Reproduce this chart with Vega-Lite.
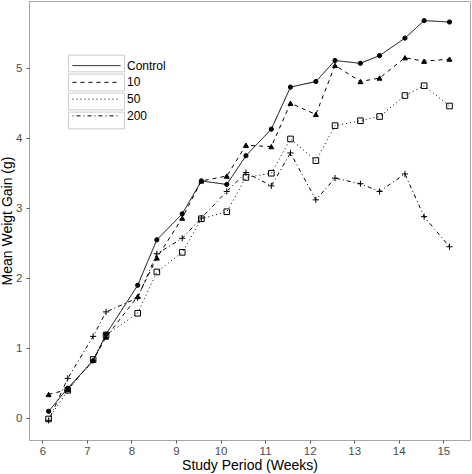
{
  "$schema": "https://vega.github.io/schema/vega-lite/v6.json",
  "width": 441,
  "height": 439,
  "autosize": {"type": "none"},
  "padding": {"left": 29, "top": 1, "right": 2, "bottom": 34},
  "background": "white",
  "config": {
    "view": {"stroke": "#a6a6a6", "strokeWidth": 1},
    "font": "Liberation Sans",
    "axis": {"domain": false, "grid": false, "tickColor": "#555", "tickSize": 3, "labelColor": "#4d4d4d", "labelFontSize": 11.5, "labelFont": "Liberation Sans", "titleFont": "Liberation Sans", "titleFontSize": 14, "titleFontWeight": "normal", "titleColor": "#000"}
  },
  "data": {
    "values": [
      {"week": 6.14, "group": "Control", "gain": 0.10},
      {"week": 6.57, "group": "Control", "gain": 0.43},
      {"week": 7.14, "group": "Control", "gain": 0.82},
      {"week": 7.43, "group": "Control", "gain": 1.20},
      {"week": 8.14, "group": "Control", "gain": 1.90},
      {"week": 8.57, "group": "Control", "gain": 2.55},
      {"week": 9.14, "group": "Control", "gain": 2.92},
      {"week": 9.57, "group": "Control", "gain": 3.39},
      {"week": 10.14, "group": "Control", "gain": 3.34},
      {"week": 10.57, "group": "Control", "gain": 3.75},
      {"week": 11.14, "group": "Control", "gain": 4.13},
      {"week": 11.57, "group": "Control", "gain": 4.73},
      {"week": 12.14, "group": "Control", "gain": 4.81},
      {"week": 12.57, "group": "Control", "gain": 5.11},
      {"week": 13.14, "group": "Control", "gain": 5.07},
      {"week": 13.57, "group": "Control", "gain": 5.18},
      {"week": 14.14, "group": "Control", "gain": 5.43},
      {"week": 14.57, "group": "Control", "gain": 5.68},
      {"week": 15.14, "group": "Control", "gain": 5.66},
      {"week": 6.14, "group": "10", "gain": 0.34},
      {"week": 6.57, "group": "10", "gain": 0.41},
      {"week": 7.14, "group": "10", "gain": 0.83},
      {"week": 7.43, "group": "10", "gain": 1.16},
      {"week": 8.14, "group": "10", "gain": 1.74},
      {"week": 8.57, "group": "10", "gain": 2.29},
      {"week": 9.14, "group": "10", "gain": 2.86},
      {"week": 9.57, "group": "10", "gain": 3.39},
      {"week": 10.14, "group": "10", "gain": 3.46},
      {"week": 10.57, "group": "10", "gain": 3.90},
      {"week": 11.14, "group": "10", "gain": 3.88},
      {"week": 11.57, "group": "10", "gain": 4.50},
      {"week": 12.14, "group": "10", "gain": 4.34},
      {"week": 12.57, "group": "10", "gain": 5.04},
      {"week": 13.14, "group": "10", "gain": 4.81},
      {"week": 13.57, "group": "10", "gain": 4.86},
      {"week": 14.14, "group": "10", "gain": 5.15},
      {"week": 14.57, "group": "10", "gain": 5.10},
      {"week": 15.14, "group": "10", "gain": 5.13},
      {"week": 6.14, "group": "50", "gain": -0.01},
      {"week": 6.57, "group": "50", "gain": 0.40},
      {"week": 7.14, "group": "50", "gain": 0.84},
      {"week": 7.43, "group": "50", "gain": 1.19},
      {"week": 8.14, "group": "50", "gain": 1.50},
      {"week": 8.57, "group": "50", "gain": 2.09},
      {"week": 9.14, "group": "50", "gain": 2.37},
      {"week": 9.57, "group": "50", "gain": 2.85},
      {"week": 10.14, "group": "50", "gain": 2.95},
      {"week": 10.57, "group": "50", "gain": 3.44},
      {"week": 11.14, "group": "50", "gain": 3.50},
      {"week": 11.57, "group": "50", "gain": 3.99},
      {"week": 12.14, "group": "50", "gain": 3.68},
      {"week": 12.57, "group": "50", "gain": 4.18},
      {"week": 13.14, "group": "50", "gain": 4.25},
      {"week": 13.57, "group": "50", "gain": 4.31},
      {"week": 14.14, "group": "50", "gain": 4.61},
      {"week": 14.57, "group": "50", "gain": 4.75},
      {"week": 15.14, "group": "50", "gain": 4.46},
      {"week": 6.14, "group": "200", "gain": -0.03},
      {"week": 6.57, "group": "200", "gain": 0.57},
      {"week": 7.14, "group": "200", "gain": 1.17},
      {"week": 7.43, "group": "200", "gain": 1.52},
      {"week": 8.14, "group": "200", "gain": 1.72},
      {"week": 8.57, "group": "200", "gain": 2.35},
      {"week": 9.14, "group": "200", "gain": 2.57},
      {"week": 9.57, "group": "200", "gain": 2.86},
      {"week": 10.14, "group": "200", "gain": 3.24},
      {"week": 10.57, "group": "200", "gain": 3.51},
      {"week": 11.14, "group": "200", "gain": 3.32},
      {"week": 11.57, "group": "200", "gain": 3.79},
      {"week": 12.14, "group": "200", "gain": 3.12},
      {"week": 12.57, "group": "200", "gain": 3.43},
      {"week": 13.14, "group": "200", "gain": 3.35},
      {"week": 13.57, "group": "200", "gain": 3.24},
      {"week": 14.14, "group": "200", "gain": 3.49},
      {"week": 14.57, "group": "200", "gain": 2.88},
      {"week": 15.14, "group": "200", "gain": 2.45}
    ]
  },
  "encoding": {
    "x": {"field": "week", "type": "quantitative", "scale": {"domain": [5.7, 15.6], "nice": false, "zero": false},
      "axis": {"values": [6, 7, 8, 9, 10, 11, 12, 13, 14, 15], "title": "Study Period (Weeks)", "labelPadding": 2, "titlePadding": 2}},
    "y": {"field": "gain", "type": "quantitative", "scale": {"domain": [-0.31, 5.96], "nice": false, "zero": false},
      "axis": {"values": [0, 1, 2, 3, 4, 5], "title": "Mean Weigt Gain (g)", "labelPadding": 4, "titlePadding": 1}}
  },
  "layer": [
    {
      "mark": {"type": "line", "color": "black", "strokeWidth": 1},
      "encoding": {
        "strokeDash": {"field": "group", "type": "nominal",
          "scale": {"domain": ["Control", "10", "50", "200"], "range": [[1, 0], [4, 4], [1, 3], [1, 3, 4, 3]]},
          "legend": {
            "title": null,
            "orient": "none",
            "legendX": 39.5,
            "legendY": 58.6,
            "symbolType": "M-6,0L6,0",
            "symbolSize": 64,
            "symbolStrokeWidth": 1,
            "symbolStrokeColor": "black",
            "symbolOffset": 22,
            "labelOffset": 24.5,
            "labelFontSize": 12,
            "labelColor": "#000",
            "labelFont": "Liberation Sans",
            "rowPadding": 4.75
          }
        },
        "strokeWidth": {"field": "group", "type": "nominal",
          "scale": {"domain": ["200", "50", "10", "Control"], "range": [1, 1, 1, 1]},
          "legend": {
            "title": null,
            "orient": "none",
            "legendX": 39.5,
            "legendY": 54,
            "symbolSize": 256,
            "symbolStrokeWidth": 1,
            "symbolStrokeColor": "#cccccc",
            "symbolFillColor": "transparent",
            "symbolType": "M-3.5,-1.047L3.5,-1.047L3.5,1.047L-3.5,1.047Z",
            "symbolOffset": 19.5,
            "labelOffset": 22,
            "labelFontSize": 12,
            "labelExpr": "''",
            "rowPadding": -5.5
          }
        }
      }
    },
    {
      "mark": {"type": "point", "stroke": "black", "strokeWidth": 1, "opacity": 1},
      "encoding": {
        "shape": {"field": "group", "type": "nominal",
          "scale": {"domain": ["Control", "10", "50", "200", "_"], "range": ["circle", "triangle-up", "square", "M-1,0H1M0,-1V1", "circle"]},
          "legend": {
            "title": null,
            "orient": "none",
            "legendX": 39.5,
            "legendY": 58.6,
            "values": ["Control", "10", "50", "200"],
            "symbolStrokeWidth": 1,
            "symbolStrokeColor": "black",
            "symbolOpacity": 1,
            "symbolOffset": 22,
            "labelOffset": 24.5,
            "labelFontSize": 12,
            "labelColor": "transparent",
            "labelFont": "Liberation Sans",
            "rowPadding": 4.75
          }},
        "fill": {"field": "group", "type": "nominal",
          "scale": {"domain": ["Control", "10", "50", "200", "_"], "range": ["black", "black", "transparent", "transparent", "black"]},
          "legend": null},
        "size": {"field": "group", "type": "nominal",
          "scale": {"domain": ["Control", "10", "50", "200", "_"], "range": [18, 45, 22, 64, 18]},
          "legend": null}
      }
    }
  ]
}
